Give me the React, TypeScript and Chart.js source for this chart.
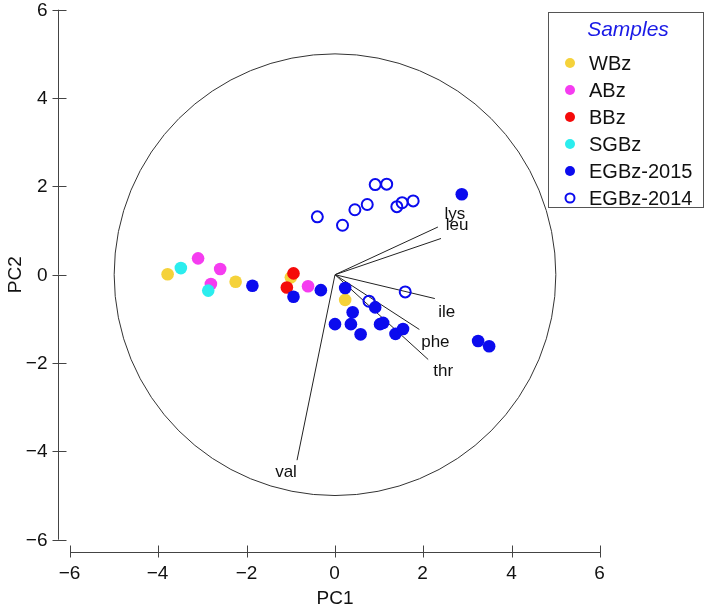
import React, { useEffect, useRef } from "react";
import { Chart, registerables } from "chart.js";

Chart.register(...registerables);

// ---------- data ----------
const AXIS_TICKS = [-6, -4, -2, 0, 2, 4, 6];
const AXIS_MIN = -6;
const AXIS_MAX = 6;
const CIRCLE_RADIUS = 5;

const wbzX = [-3.79, -2.25, -1.0, 0.23];
const wbzY = [0.01, -0.16, -0.06, -0.57];

const abzX = [-3.1, -2.6, -2.81, -0.61];
const abzY = [0.37, 0.13, -0.21, -0.26];

const bbzX = [-0.94, -1.09];
const bbzY = [0.03, -0.29];

const sgbzX = [-3.49, -2.87];
const sgbzY = [0.15, -0.36];

const egb2015X = [-1.87, -0.94, -0.32, 0.23, 0.91, 0.4, 0.0, 0.36, 0.58, 1.02, 1.09, 1.37, 1.54, 3.24, 3.49, 2.87];
const egb2015Y = [-0.25, -0.5, -0.35, -0.3, -0.74, -0.85, -1.12, -1.12, -1.35, -1.12, -1.09, -1.34, -1.23, -1.5, -1.62, 1.82];

const egb2014X = [0.77, 1.59, -0.4, 0.17, 0.45, 0.73, 0.91, 1.17, 1.4, 1.52, 1.77];
const egb2014Y = [-0.6, -0.39, 1.31, 1.12, 1.47, 1.59, 2.04, 2.05, 1.54, 1.63, 1.67];

const loadingNames = ["lys", "leu", "ile", "phe", "thr", "val"];
const loadingX = [2.33, 2.4, 2.26, 1.91, 2.11, -0.86];
const loadingY = [1.08, 0.82, -0.54, -1.24, -1.92, -4.2];

const groupNames = ["WBz", "ABz", "BBz", "SGBz", "EGBz-2015", "EGBz-2014"];

// ---------- styles ----------
const groupColors = ["#F5D23A", "#F53CF0", "#F50A0A", "#2BEDEE", "#0B0BEE", "#0B0BEE"];
const groupOpen = [false, false, false, false, false, true];
const loadingLabelOffsets: [number, number][] = [
  [17, -13],
  [16, -13],
  [12, 14],
  [16, 13],
  [15, 12],
  [-11, 12],
];
const FONT = "'Liberation Sans', Arial, Helvetica, sans-serif";

const zip = (xs: number[], ys: number[]) => xs.map((x, i) => ({ x, y: ys[i] }));

const groupData = [
  zip(wbzX, wbzY),
  zip(abzX, abzY),
  zip(bbzX, bbzY),
  zip(sgbzX, sgbzY),
  zip(egb2015X, egb2015Y),
  zip(egb2014X, egb2014Y),
];

const fmt = (t: number) => (t < 0 ? "\u2212" + Math.abs(t) : String(t));

const overlayPlugin = {
  id: "overlay",
  beforeDatasetsDraw(chart: any) {
    const { ctx } = chart;
    const xs = chart.scales.x;
    const ys = chart.scales.y;
    const cx = xs.getPixelForValue(0);
    const cy = ys.getPixelForValue(0);
    const rx = xs.getPixelForValue(CIRCLE_RADIUS) - cx;
    const ry = cy - ys.getPixelForValue(CIRCLE_RADIUS);
    ctx.save();
    ctx.beginPath();
    ctx.ellipse(cx, cy, rx, ry, 0, 0, Math.PI * 2);
    ctx.strokeStyle = "#333";
    ctx.lineWidth = 1;
    ctx.stroke();
    ctx.restore();
  },
  afterDraw(chart: any) {
    const { ctx, chartArea } = chart;
    const xs = chart.scales.x;
    const ys = chart.scales.y;
    ctx.save();
    ctx.strokeStyle = "#444";
    ctx.fillStyle = "#111";
    ctx.lineWidth = 1;

    // x axis (detached)
    const ax = Math.round(chartArea.bottom + 12.5) + 0.5;
    ctx.beginPath();
    ctx.moveTo(xs.getPixelForValue(AXIS_MIN), ax);
    ctx.lineTo(xs.getPixelForValue(AXIS_MAX), ax);
    ctx.stroke();
    ctx.font = `19px ${FONT}`;
    ctx.textAlign = "center";
    ctx.textBaseline = "middle";
    AXIS_TICKS.forEach((t) => {
      const px = Math.round(xs.getPixelForValue(t)) + 0.5;
      ctx.beginPath();
      ctx.moveTo(px, ax - 7);
      ctx.lineTo(px, ax + 5);
      ctx.stroke();
      ctx.fillText(fmt(t), px - 1, ax + 21);
    });

    // y axis (detached)
    const ay = Math.round(chartArea.left - 12) + 0.5;
    ctx.beginPath();
    ctx.moveTo(ay, ys.getPixelForValue(AXIS_MIN));
    ctx.lineTo(ay, ys.getPixelForValue(AXIS_MAX));
    ctx.stroke();
    ctx.textAlign = "right";
    AXIS_TICKS.forEach((t) => {
      const py = Math.round(ys.getPixelForValue(t)) + 0.5;
      ctx.beginPath();
      ctx.moveTo(ay - 6, py);
      ctx.lineTo(ay + 8, py);
      ctx.stroke();
      ctx.fillText(fmt(t), ay - 11, py);
    });

    // axis titles
    ctx.textAlign = "center";
    ctx.fillText("PC1", xs.getPixelForValue(0), ax + 46);
    ctx.save();
    ctx.translate(16, ys.getPixelForValue(0));
    ctx.rotate(-Math.PI / 2);
    ctx.fillText("PC2", 0, 0);
    ctx.restore();

    // loading labels
    ctx.font = `17px ${FONT}`;
    loadingNames.forEach((n, i) => {
      const px = xs.getPixelForValue(loadingX[i]) + loadingLabelOffsets[i][0];
      const py = ys.getPixelForValue(loadingY[i]) + loadingLabelOffsets[i][1];
      ctx.fillText(n, px, py);
    });

    // legend
    const lx = 548.5, lyTop = 12.5, lw = 155, lh = 195;
    ctx.strokeStyle = "#555";
    ctx.strokeRect(lx, lyTop, lw, lh);
    ctx.fillStyle = "#1A1AE6";
    ctx.font = `italic 21px ${FONT}`;
    ctx.textAlign = "center";
    ctx.fillText("Samples", lx + lw / 2 + 2, 30);
    ctx.font = `20px ${FONT}`;
    ctx.textAlign = "left";
    groupNames.forEach((n, i) => {
      const iy = 63 + i * 27;
      ctx.beginPath();
      ctx.arc(570, iy, groupOpen[i] ? 4.5 : 5, 0, Math.PI * 2);
      if (groupOpen[i]) {
        ctx.strokeStyle = groupColors[i];
        ctx.lineWidth = 2;
        ctx.stroke();
      } else {
        ctx.fillStyle = groupColors[i];
        ctx.fill();
      }
      ctx.fillStyle = "#111";
      ctx.fillText(n, 589, iy + 1);
    });
    ctx.restore();
  },
};

export default function App() {
  const ref = useRef<HTMLCanvasElement | null>(null);
  useEffect(() => {
    if (!ref.current) return;
    const datasets: any[] = [];
    loadingNames.forEach((n, i) => {
      datasets.push({
        type: "line",
        label: n,
        data: [
          { x: 0, y: 0 },
          { x: loadingX[i], y: loadingY[i] },
        ],
        borderColor: "#222",
        borderWidth: 1,
        pointRadius: 0,
        fill: false,
        order: 20,
      });
    });
    groupNames.forEach((n, i) => {
      datasets.push({
        type: "scatter",
        label: n,
        data: groupData[i],
        backgroundColor: groupOpen[i] ? "rgba(0,0,0,0)" : groupColors[i],
        borderColor: groupColors[i],
        borderWidth: groupOpen[i] ? 2 : 0,
        pointRadius: groupOpen[i] ? 5.5 : 6.3,
        order: 6 - i,
      });
    });
    const chart = new Chart(ref.current, {
      type: "scatter",
      data: { datasets },
      options: {
        animation: false,
        responsive: false,
        devicePixelRatio: 1,
        layout: { padding: { left: 70, top: 9.7, right: 109, bottom: 67.3 } },
        plugins: { legend: { display: false }, tooltip: { enabled: false } },
        scales: {
          x: { type: "linear", min: AXIS_MIN, max: AXIS_MAX, display: false },
          y: { type: "linear", min: AXIS_MIN, max: AXIS_MAX, display: false },
        },
      },
      plugins: [overlayPlugin],
    });
    return () => chart.destroy();
  }, []);
  return (
    <div style={{ position: "fixed", left: 0, top: 0, width: 709, height: 607, background: "#fff" }}>
      <canvas ref={ref} width={709} height={607} style={{ display: "block" }} />
    </div>
  );
}
